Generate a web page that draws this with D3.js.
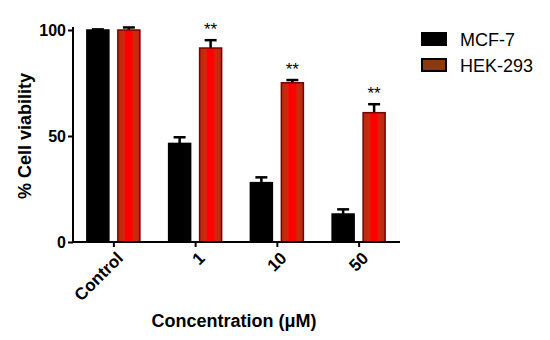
<!DOCTYPE html>
<html>
<head>
<meta charset="utf-8">
<script src="https://cdn.jsdelivr.net/npm/d3@7"></script>
<style>
  body { margin: 0; background: #fff; }
  svg { font-family: "Liberation Sans", Arial, sans-serif; }
</style>
</head>
<body>
<svg id="chart" width="550" height="340"></svg>
<script>
// ==================== DATA ====================
const categories = ["Control", "1", "10", "50"];
const series = ["MCF-7", "HEK-293"];
const mcf7 = [100, 46.5, 28, 13.2];
const mcf7Err = [0.3, 2.9, 2.5, 2.2];
const hek293 = [100, 91.5, 75.1, 61];
const hek293Err = [1.2, 3.7, 1.3, 4];
const signif = ["", "**", "**", "**"];
const yTicks = [0, 50, 100];

// ==================== LAYOUT ====================
const svg = d3.select("#chart");
const x0 = 73, x1 = 400, yBase = 242;

const x = d3.scaleBand().domain(categories).range([x0, x1]);
const xs = d3.scaleBand().domain(series).range([-27, 26]).paddingInner(0.29);
const y = d3.scaleLinear().domain([0, 100]).range([yBase, 30]);

// gradient for the red bars
const defs = svg.append("defs");
const grad = defs.append("linearGradient").attr("id", "redGrad")
    .attr("x1", "0%").attr("x2", "100%").attr("y1", "0%").attr("y2", "0%");
[["0%", "#b82a10"], ["28%", "#cc2a0c"], ["36%", "#ff0000"], ["62%", "#ff0000"], ["72%", "#cc2a0c"], ["100%", "#b82a10"]]
    .forEach(s => grad.append("stop").attr("offset", s[0]).attr("stop-color", s[1]));

const rows = categories.map((c, i) => ({
    cat: c,
    bars: [
        { s: "MCF-7", v: mcf7[i], e: mcf7Err[i] },
        { s: "HEK-293", v: hek293[i], e: hek293Err[i] }
    ],
    sig: signif[i]
}));

const g = svg.append("g")
    .selectAll("g")
    .data(rows)
    .join("g")
    .attr("transform", d => `translate(${x(d.cat) + x.bandwidth() / 2},0)`);

const bar = g.selectAll("g.bar")
    .data(d => d.bars)
    .join("g").attr("class", "bar");

// error bars (upper only)
bar.append("line")
    .attr("x1", d => xs(d.s) + xs.bandwidth() / 2)
    .attr("x2", d => xs(d.s) + xs.bandwidth() / 2)
    .attr("y1", d => y(d.v)).attr("y2", d => y(d.v + d.e))
    .attr("stroke", "#000").attr("stroke-width", 2.5);
bar.append("line")
    .attr("x1", d => xs(d.s) + xs.bandwidth() / 2 - 6)
    .attr("x2", d => xs(d.s) + xs.bandwidth() / 2 + 6)
    .attr("y1", d => y(d.v + d.e)).attr("y2", d => y(d.v + d.e))
    .attr("stroke", "#000").attr("stroke-width", 2.5);

bar.append("rect")
    .attr("x", d => xs(d.s))
    .attr("width", xs.bandwidth())
    .attr("y", d => y(d.v))
    .attr("height", d => yBase - y(d.v))
    .attr("fill", d => d.s === "MCF-7" ? "#000" : "url(#redGrad)")
    .attr("stroke", d => d.s === "MCF-7" ? "#000" : "#7a0000")
    .attr("stroke-width", 1.5);

// significance stars
g.append("text")
    .attr("x", xs("HEK-293") + xs.bandwidth() / 2)
    .attr("y", (d, i) => y(hek293[i] + hek293Err[i]) - 5)
    .attr("text-anchor", "middle")
    .style("font-size", "17px")
    .text(d => d.sig);

// ==================== AXES ====================
const yAxis = svg.append("g").attr("transform", `translate(${x0},0)`)
    .call(d3.axisLeft(y).tickValues(yTicks).tickSizeOuter(0).tickSize(5).tickPadding(2));
yAxis.select(".domain").attr("d", `M0,27V${yBase}`).attr("stroke-width", 2);
yAxis.selectAll(".tick line").attr("stroke-width", 2);
yAxis.selectAll(".tick text")
    .style("font-size", "16px").style("font-weight", "bold").attr("fill", "#000");

const xAxis = svg.append("g").attr("transform", `translate(0,${yBase})`)
    .call(d3.axisBottom(x).tickSizeOuter(0).tickSize(5).tickPadding(4));
xAxis.select(".domain").attr("d", `M${x0},0H${x1}`).attr("stroke-width", 2);
xAxis.selectAll(".tick line").attr("stroke-width", 2);
xAxis.selectAll(".tick text")
    .attr("text-anchor", "end")
    .attr("dy", "0.35em")
    .attr("transform", "translate(6,13) rotate(-45)")
    .attr("y", 0)
    .style("font-size", "17px").style("font-weight", "bold").attr("fill", "#000");

// titles
svg.append("text")
    .attr("transform", `translate(31,${y(50)}) rotate(-90)`)
    .attr("text-anchor", "middle")
    .style("font-size", "18px").style("font-weight", "bold")
    .text("% Cell viability");

svg.append("text")
    .attr("x", 234).attr("y", 327)
    .attr("text-anchor", "middle")
    .style("font-size", "18px").style("font-weight", "bold")
    .text("Concentration (μM)");

// ==================== LEGEND ====================
const legendFill = ["#000", "#8b3a10"];
const legend = svg.append("g").selectAll("g")
    .data(series)
    .join("g")
    .attr("transform", (d, i) => `translate(422,${33 + i * 26})`);
legend.append("rect")
    .attr("width", 24).attr("height", 12)
    .attr("fill", (d, i) => legendFill[i])
    .attr("stroke", "#000").attr("stroke-width", 2);
legend.append("text")
    .attr("x", 38).attr("y", 13)
    .style("font-size", "18px")
    .text(d => d);
</script>
</body>
</html>
